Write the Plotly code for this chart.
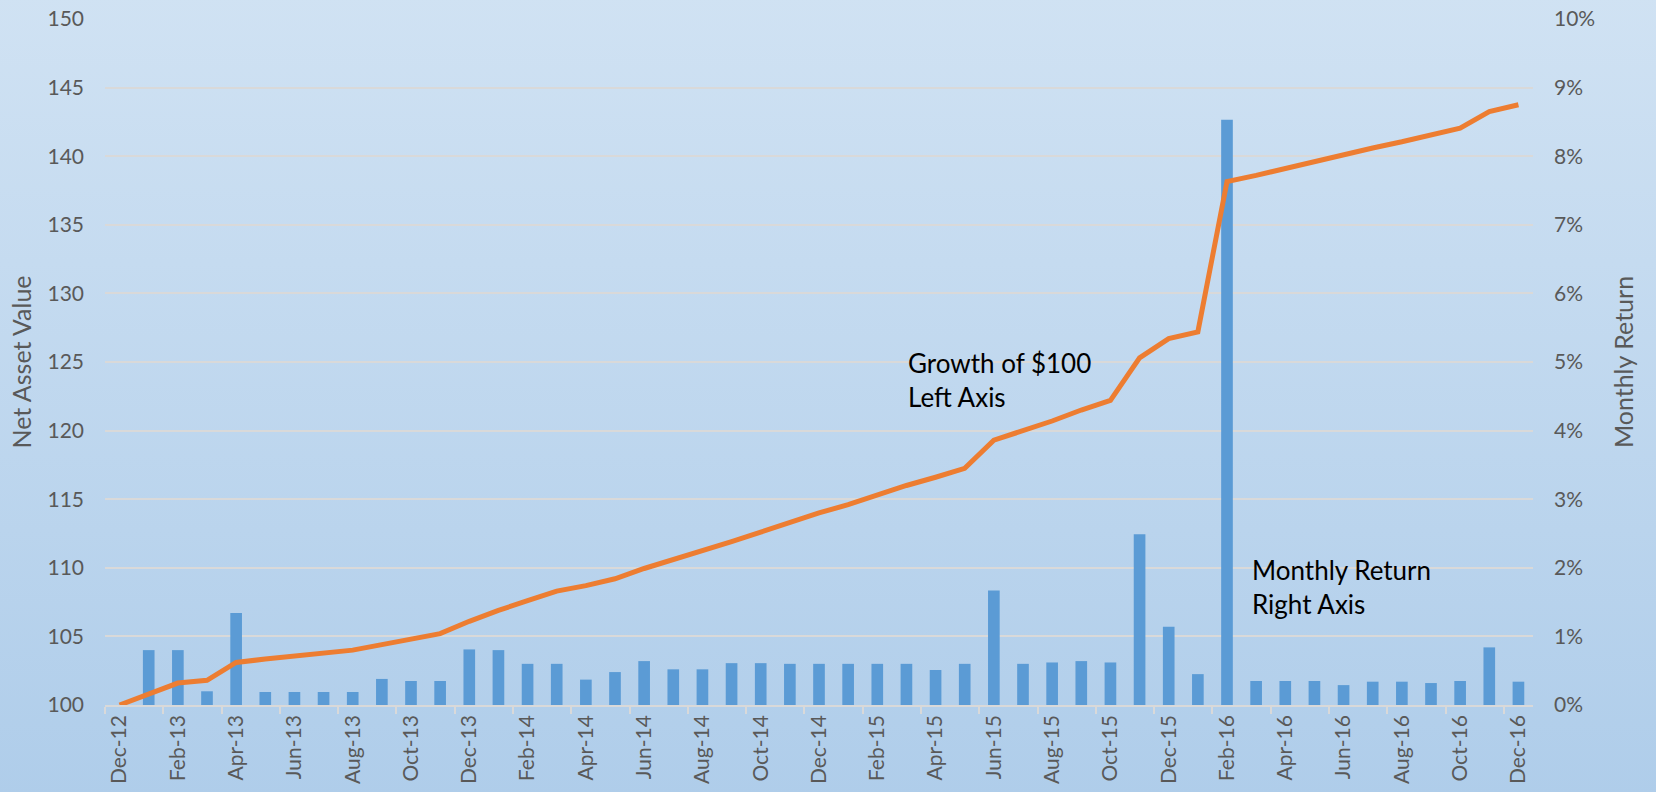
import base64
import pandas as pd
import plotly.graph_objects as go

# ---- data ----
months = pd.date_range("2012-12-01", "2016-12-01", freq="MS").strftime("%b-%y").tolist()

monthly_return = [
    0.0,                                   # Dec-12 (no bar)
    0.0080, 0.0080, 0.0020, 0.0134, 0.0019, 0.0019, 0.0019, 0.0019,
    0.0038, 0.0035, 0.0035, 0.0081,        # 2013
    0.0080, 0.0060, 0.0060, 0.0037, 0.0048, 0.0064, 0.0052, 0.0052,
    0.0061, 0.0061, 0.0060, 0.0060,        # 2014
    0.0060, 0.0060, 0.0060, 0.0051, 0.0060, 0.0167, 0.0060, 0.0062,
    0.0064, 0.0062, 0.0249, 0.0114,        # 2015
    0.0045, 0.0853, 0.0035, 0.0035, 0.0035, 0.0029, 0.0034, 0.0034,
    0.0032, 0.0035, 0.0084, 0.0034,        # 2016
]

nav = [
    100.0,
    100.8, 101.6, 101.8, 103.1, 103.35, 103.55, 103.8, 104.0,
    104.4, 104.8, 105.2, 106.1,
    106.9, 107.6, 108.3, 108.7, 109.2, 109.95, 110.6, 111.2,
    111.9, 112.6, 113.3, 114.0,
    114.6, 115.3, 116.0, 116.6, 117.25, 119.3, 120.0, 120.7,
    121.5, 122.2, 125.3, 126.7,
    127.2, 138.15, 138.6, 139.1, 139.65, 140.1, 140.6, 141.05,
    141.55, 142.05, 143.25, 143.75,
]

bar_values = [None] + monthly_return[1:]

# ---- layout constants ----
W, H = 1656, 792
ML, MR, MT, MB = 105, 123, 19, 87
PW, PH = W - ML - MR, H - MT - MB
FONT = "Lato"
GREY = "#595959"
GRID = "#D9D9D9"


def px_x(px):
    return (px - ML) / PW


def px_y(py):
    return (H - MB - py) / PH


svg = (
    f'<svg xmlns="http://www.w3.org/2000/svg" width="{W}" height="{H}" '
    f'viewBox="0 0 {W} {H}" preserveAspectRatio="none">'
    '<defs><linearGradient id="g" x1="0" y1="0" x2="0" y2="1">'
    '<stop offset="0" stop-color="#D0E2F3"/>'
    '<stop offset="1" stop-color="#AFCDEA"/>'
    '</linearGradient></defs>'
    f'<rect x="0" y="0" width="{W}" height="{H}" fill="url(#g)"/></svg>'
)
bg_src = "data:image/svg+xml;base64," + base64.b64encode(svg.encode()).decode()

fig = go.Figure()

fig.add_trace(go.Bar(
    x=months, y=bar_values, name="Monthly Return",
    marker=dict(color="#5B9BD5", line=dict(width=0)),
    yaxis="y",
))
fig.add_trace(go.Scatter(
    x=months, y=nav, name="Growth of $100", mode="lines",
    line=dict(color="#ED7D31", width=5),
    yaxis="y2",
))

PADPX = 6  # extend background slightly beyond the page on every side
fig.update_layout(
    width=W, height=H,
    margin=dict(l=ML, r=MR, t=MT, b=MB, pad=0, autoexpand=False),
    paper_bgcolor="#CFE1F2",
    plot_bgcolor="rgba(0,0,0,0)",
    showlegend=False,
    bargap=0.6,
    font=dict(family=FONT, size=20, color=GREY),
    images=[dict(
        source=bg_src, xref="paper", yref="paper",
        x=-(ML + PADPX) / PW, y=1 + (MT + PADPX) / PH,
        sizex=(W + 2 * PADPX) / PW, sizey=(H + 2 * PADPX) / PH,
        xanchor="left", yanchor="top", sizing="stretch", layer="below",
    )],
    xaxis=dict(
        type="category", tickmode="linear", tick0=0, dtick=2,
        tickson="boundaries", ticks="outside", ticklen=7, tickwidth=1.5,
        tickcolor=GRID, showline=True, linecolor=GRID, linewidth=1.5,
        showgrid=False, tickangle=-90, automargin=False,
        tickfont=dict(family=FONT, size=21, color=GREY),
        range=[-0.5, len(months) - 0.5],
    ),
    yaxis=dict(
        side="right", range=[0, 0.10], dtick=0.01, tickformat=".0%",
        showgrid=True, gridcolor=GRID, gridwidth=1.5, zeroline=False,
        ticks="", ticklabelstandoff=20, automargin=False,
        tickfont=dict(family=FONT, size=21, color=GREY),
        title=dict(text="Monthly Return", standoff=21,
                   font=dict(family=FONT, size=25, color=GREY)),
    ),
    yaxis2=dict(
        side="left", overlaying="y", range=[100, 150], dtick=5,
        showgrid=False, zeroline=False, ticks="", ticklabelstandoff=20,
        automargin=False,
        tickfont=dict(family=FONT, size=21, color=GREY),
        title=dict(text="Net Asset Value", standoff=8,
                   font=dict(family=FONT, size=25, color=GREY)),
    ),
    annotations=[
        dict(text="Growth of $100<br>Left Axis", xref="paper", yref="paper",
             x=px_x(906), y=px_y(380), xanchor="left", yanchor="middle",
             align="left", showarrow=False,
             font=dict(family=FONT, size=26, color="#000000")),
        dict(text="Monthly Return<br>Right Axis", xref="paper", yref="paper",
             x=px_x(1250), y=px_y(587), xanchor="left", yanchor="middle",
             align="left", showarrow=False,
             font=dict(family=FONT, size=26, color="#000000")),
    ],
)

fig.write_html("out.html")
